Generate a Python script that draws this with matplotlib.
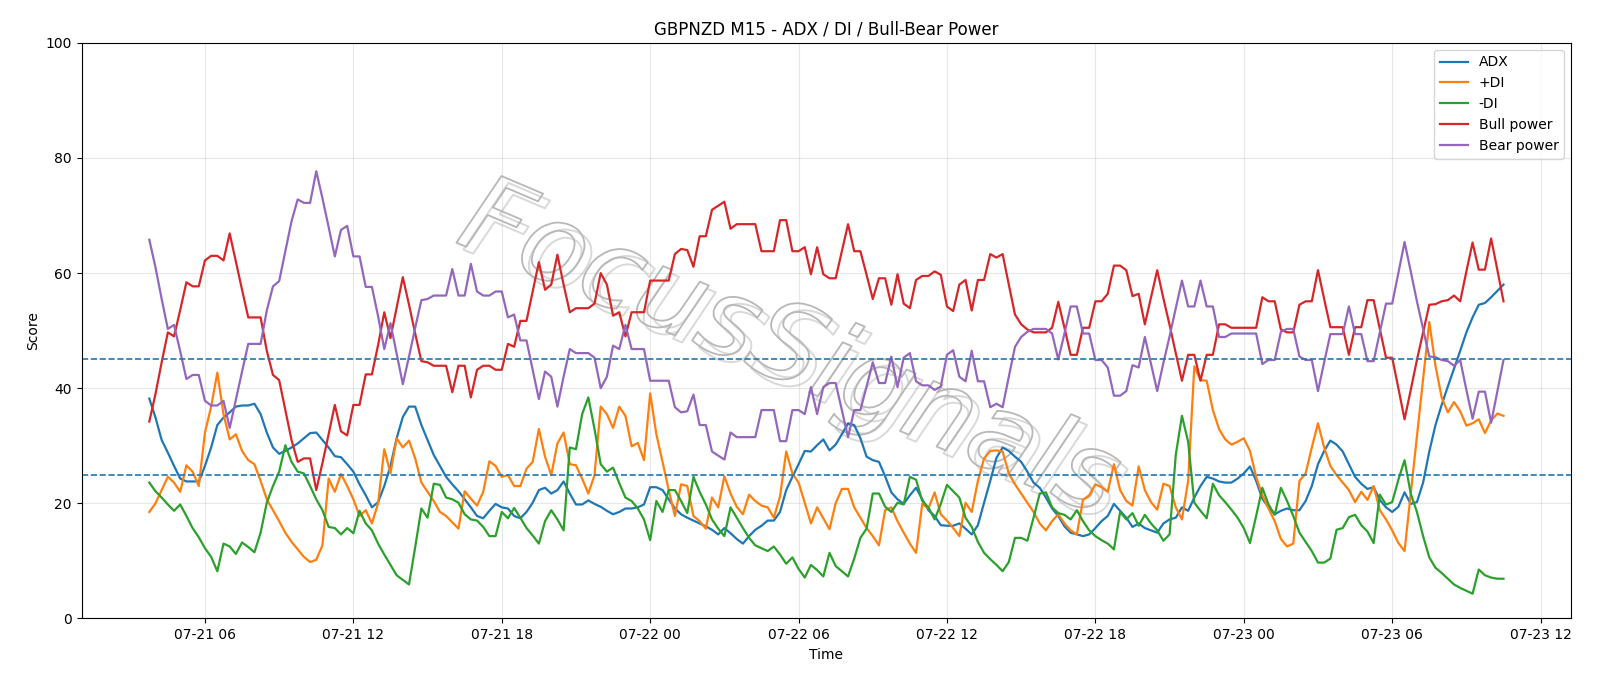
import matplotlib
matplotlib.use("Agg")
import matplotlib.pyplot as plt
import matplotlib.dates as mdates
import matplotlib.patheffects as pe
import pandas as pd

# 15-minute bars, 07-21 03:45 -> 07-23 10:30
times = pd.date_range("2025-07-21 03:45", periods=220, freq="15min")

adx = [
    38.2, 34.9, 31.0, 28.8, 26.5, 24.3, 23.8, 23.8, 23.8, 26.5, 29.7, 33.6, 34.9, 35.8, 36.8, 37.0, 37.0, 37.3, 35.5, 32.3,
    29.7, 28.6, 29.1, 29.7, 30.4, 31.3, 32.2, 32.3, 31.0, 29.7, 28.2, 28.0, 26.8, 25.5, 23.3, 21.4, 19.3, 20.2,
    23.0, 26.5, 31.3, 35.0, 36.8, 36.8, 33.6, 31.0, 28.4, 26.5, 24.6, 23.3, 22.1, 20.7, 19.3, 17.8, 17.4, 18.7, 19.9, 19.3,
    19.1, 17.8, 17.4, 18.5, 20.1, 22.3, 22.7, 21.7, 22.3, 23.8, 21.7, 19.8, 19.8, 20.5, 19.9, 19.4, 18.7,
    18.1, 18.5, 19.1, 19.1, 19.3, 19.8, 22.8, 22.8, 22.3, 20.7, 19.1, 18.1, 17.5, 17.0, 16.5, 16.0, 15.4, 14.6, 15.7, 14.8,
    13.8, 13.0, 14.3, 15.4, 16.1, 17.0, 17.0, 18.5, 22.3, 24.6, 26.8, 29.1, 29.0, 30.1, 31.1, 29.2, 30.2,
    32.0, 33.9, 33.6, 31.3, 28.1, 27.5, 27.2, 24.7, 21.9, 20.7, 19.9, 21.4, 22.7, 20.7, 18.8, 17.8, 16.2, 16.1, 16.1, 16.5,
    15.6, 14.6, 16.2, 20.1, 23.9, 27.9, 29.7, 29.1, 28.1, 27.2, 25.5, 23.6, 22.7, 21.0, 19.1, 17.8, 16.0,
    14.9, 14.6, 14.3, 14.6, 15.7, 16.9, 17.8, 19.9, 18.7, 17.5, 15.9, 16.5, 15.7, 15.3, 14.9, 16.5, 17.2, 17.5, 19.3, 18.7,
    21.0, 23.0, 24.6, 24.3, 23.8, 23.6, 23.6, 24.3, 25.2, 26.4, 23.9, 20.8, 19.3, 18.1, 18.7, 19.1, 18.8, 18.8,
    20.4, 23.0, 26.8, 29.1, 30.9, 30.2, 29.0, 26.8, 24.6, 23.4, 22.5, 22.8, 20.6, 19.3, 18.5, 19.4, 21.9, 19.9, 20.2, 23.6,
    29.0, 33.6, 37.1, 40.3, 43.4, 46.5, 49.7, 52.3, 54.5, 54.8, 55.8, 56.9, 58.0,
]

plus_di = [
    18.5, 20.0, 22.3, 24.6, 23.6, 22.0, 26.6, 25.5, 23.0, 32.3, 36.8, 42.7, 35.5, 31.1, 32.0, 29.1, 27.5, 26.8, 23.9, 20.7,
    18.8, 16.9, 14.9, 13.3, 12.0, 10.7, 9.8, 10.2, 12.7, 24.3, 22.0, 25.1, 23.0, 20.7, 17.8, 18.8, 16.5, 20.0,
    29.4, 25.2, 31.3, 29.7, 30.9, 27.8, 23.6, 22.0, 20.4, 18.5, 17.8, 16.7, 15.6, 22.1, 20.8, 19.6, 22.0, 27.3, 26.5, 24.6,
    24.9, 23.0, 23.0, 26.0, 27.2, 32.9, 28.1, 24.9, 30.4, 32.3, 26.8, 26.6, 24.3, 21.7, 24.9, 36.8, 35.5,
    33.1, 36.8, 35.2, 29.9, 30.5, 27.5, 39.1, 32.0, 27.2, 22.3, 17.8, 23.3, 23.0, 17.8, 16.9, 15.6, 21.0, 19.3, 24.7, 21.7,
    19.4, 18.1, 21.5, 20.4, 19.6, 19.3, 17.5, 21.2, 29.0, 25.2, 23.6, 20.1, 16.5, 19.3, 17.4, 15.5, 20.0,
    22.5, 22.5, 19.3, 17.5, 15.7, 14.3, 12.7, 18.8, 19.3, 16.9, 14.9, 13.0, 11.4, 19.9, 19.1, 21.9, 18.1, 17.0, 15.7, 14.3,
    20.1, 18.5, 23.9, 27.8, 29.1, 29.2, 29.0, 25.2, 23.3, 21.7, 20.1, 18.5, 16.5, 15.3, 16.9, 18.1, 16.5,
    15.3, 14.6, 20.6, 21.4, 23.3, 22.8, 22.0, 26.8, 22.3, 20.4, 19.6, 26.4, 22.3, 20.2, 18.9, 23.4, 23.0, 19.3, 17.2, 23.9,
    43.8, 41.4, 41.3, 36.2, 32.9, 31.1, 30.2, 30.7, 31.3, 29.1, 24.6, 21.4, 19.1, 16.9, 13.8, 12.5, 13.0, 23.9,
    25.2, 29.7, 33.9, 29.7, 26.5, 24.9, 23.6, 22.3, 20.2, 22.0, 20.6, 23.0, 18.8, 17.2, 15.3, 13.1, 11.7, 21.7, 31.7, 41.6,
    51.5, 43.9, 38.4, 35.8, 37.6, 36.0, 33.5, 33.9, 34.6, 32.2, 34.4, 35.6, 35.2,
]

minus_di = [
    23.6, 22.1, 21.0, 19.8, 18.7, 19.8, 17.8, 15.7, 14.1, 12.2, 10.7, 8.2, 13.0, 12.5, 11.2, 13.2, 12.4, 11.5, 14.9, 20.1,
    23.0, 25.5, 30.1, 27.2, 25.5, 25.2, 23.0, 20.7, 18.8, 15.9, 15.7, 14.6, 15.7, 14.8, 18.7, 16.5, 15.3, 13.0,
    11.1, 9.3, 7.5, 6.7, 5.9, 12.4, 19.1, 17.5, 23.4, 23.2, 21.0, 20.7, 20.1, 18.1, 17.2, 17.0, 15.9, 14.3, 14.3, 18.5,
    17.4, 19.2, 17.5, 15.7, 14.4, 13.0, 16.9, 18.8, 17.2, 15.3, 29.7, 29.4, 35.5, 38.4, 32.9, 26.8, 25.5,
    26.2, 23.5, 21.0, 20.4, 19.1, 17.2, 13.6, 20.4, 18.5, 22.3, 22.3, 20.4, 18.3, 24.6, 22.0, 19.8, 17.2, 15.6, 14.3, 19.3,
    17.5, 15.7, 14.0, 12.7, 12.2, 11.7, 12.5, 11.1, 9.5, 10.6, 8.6, 7.1, 9.3, 8.4, 7.3, 11.4, 9.1,
    8.2, 7.3, 10.4, 14.0, 15.6, 21.7, 21.7, 19.4, 18.5, 20.1, 19.8, 24.6, 24.1, 20.4, 19.3, 17.2, 19.9, 23.2, 22.1, 21.0,
    17.5, 15.9, 13.3, 11.4, 10.3, 9.3, 8.2, 9.8, 14.0, 14.0, 13.5, 17.5, 21.7, 21.9, 19.3, 18.3, 18.0,
    17.2, 18.8, 16.9, 15.3, 14.3, 13.6, 13.0, 12.0, 18.5, 17.2, 18.3, 16.1, 18.0, 16.5, 15.3, 13.5, 14.6, 28.4, 35.2, 30.7,
    20.1, 18.7, 17.4, 23.4, 21.4, 20.2, 18.9, 17.5, 15.7, 13.1, 17.8, 22.7, 19.8, 18.0, 22.7, 20.4, 17.8, 14.9,
    13.3, 11.7, 9.7, 9.7, 10.4, 15.4, 15.7, 17.6, 18.0, 16.2, 15.1, 13.1, 21.5, 19.8, 20.2, 24.1, 27.5, 21.7, 18.5, 14.3,
    10.6, 8.8, 7.9, 6.9, 5.9, 5.3, 4.8, 4.3, 8.5, 7.5, 7.1, 6.9, 6.9,
]

bull_power = [
    34.2, 39.0, 44.5, 49.7, 49.0, 53.6, 58.4, 57.7, 57.7, 62.2, 63.0, 63.0, 62.2, 66.9, 62.0, 57.1, 52.3, 52.3, 52.3, 46.5,
    42.3, 41.4, 36.2, 31.0, 27.2, 27.8, 27.8, 22.3, 27.0, 32.0, 37.1, 32.5, 31.8, 37.1, 37.1, 42.4, 42.4, 47.5,
    53.2, 48.7, 54.0, 59.3, 54.5, 49.5, 44.7, 44.5, 43.9, 43.9, 43.9, 39.3, 43.9, 43.9, 38.4, 43.2, 43.9, 43.9, 43.2, 43.2,
    47.7, 47.2, 51.7, 51.7, 56.8, 61.9, 57.1, 58.0, 63.2, 58.0, 53.2, 53.9, 53.9, 53.9, 54.7, 60.0, 58.0,
    52.6, 53.2, 49.0, 53.2, 53.2, 53.2, 58.7, 58.7, 58.7, 58.7, 63.3, 64.2, 64.0, 61.1, 66.4, 66.4, 71.0, 71.7, 72.4, 67.7,
    68.5, 68.5, 68.5, 68.5, 63.8, 63.8, 63.8, 69.2, 69.2, 63.8, 63.8, 64.5, 59.8, 64.5, 59.8, 59.1, 59.1,
    63.8, 68.5, 63.8, 63.8, 59.7, 55.5, 59.1, 59.1, 54.5, 59.8, 54.7, 53.9, 58.8, 59.5, 59.5, 60.3, 59.7, 54.2, 53.4, 58.0,
    58.8, 53.5, 58.8, 58.8, 63.3, 62.7, 63.3, 58.0, 52.8, 51.1, 50.2, 49.7, 49.7, 49.7, 50.5, 55.0, 50.5,
    45.8, 45.8, 50.5, 50.5, 55.1, 55.1, 56.4, 61.3, 61.3, 60.5, 56.0, 56.4, 51.1, 55.8, 60.5, 55.6, 51.0, 46.1, 41.3, 45.8,
    45.8, 41.3, 45.8, 45.8, 51.1, 51.1, 50.5, 50.5, 50.5, 50.5, 50.5, 55.8, 55.1, 55.1, 50.2, 49.7, 49.7, 54.5,
    55.1, 55.1, 60.5, 55.5, 50.6, 50.6, 50.6, 45.8, 50.6, 50.6, 55.3, 55.3, 50.3, 45.3, 45.3, 40.0, 34.6, 39.7, 44.9, 49.7,
    54.5, 54.6, 55.1, 55.3, 56.1, 55.1, 60.3, 65.3, 60.6, 60.6, 66.0, 60.6, 55.1,
]

bear_power = [
    65.8, 61.0, 55.5, 50.3, 51.0, 46.4, 41.6, 42.3, 42.3, 37.8, 37.0, 37.0, 37.8, 33.1, 38.0, 42.9, 47.7, 47.7, 47.7, 53.5,
    57.7, 58.6, 63.8, 69.0, 72.8, 72.2, 72.2, 77.7, 73.0, 68.0, 62.9, 67.5, 68.2, 62.9, 62.9, 57.6, 57.6, 52.5,
    46.8, 51.3, 46.0, 40.7, 45.5, 50.5, 55.3, 55.5, 56.1, 56.1, 56.1, 60.7, 56.1, 56.1, 61.6, 56.8, 56.1, 56.1, 56.8, 56.8,
    52.3, 52.8, 48.3, 48.3, 43.2, 38.1, 42.9, 42.0, 36.8, 42.0, 46.8, 46.1, 46.1, 46.1, 45.3, 40.0, 42.0,
    47.4, 46.8, 51.0, 46.8, 46.8, 46.8, 41.3, 41.3, 41.3, 41.3, 36.7, 35.8, 36.0, 38.9, 33.6, 33.6, 29.0, 28.3, 27.6, 32.3,
    31.5, 31.5, 31.5, 31.5, 36.2, 36.2, 36.2, 30.8, 30.8, 36.2, 36.2, 35.5, 40.2, 35.5, 40.2, 40.9, 40.9,
    36.2, 31.5, 36.2, 36.2, 40.3, 44.5, 40.9, 40.9, 45.5, 40.2, 45.3, 46.1, 41.2, 40.5, 40.5, 39.7, 40.3, 45.8, 46.6, 42.0,
    41.2, 46.5, 41.2, 41.2, 36.7, 37.3, 36.7, 42.0, 47.2, 48.9, 49.8, 50.3, 50.3, 50.3, 49.5, 45.0, 49.5,
    54.2, 54.2, 49.5, 49.5, 44.9, 44.9, 43.6, 38.7, 38.7, 39.5, 44.0, 43.6, 48.9, 44.2, 39.5, 44.4, 49.0, 53.9, 58.7, 54.2,
    54.2, 58.7, 54.2, 54.2, 48.9, 48.9, 49.5, 49.5, 49.5, 49.5, 49.5, 44.2, 44.9, 44.9, 49.8, 50.3, 50.3, 45.5,
    44.9, 44.9, 39.5, 44.5, 49.4, 49.4, 49.4, 54.2, 49.4, 49.4, 44.7, 44.7, 49.7, 54.7, 54.7, 60.0, 65.4, 60.3, 55.1, 50.3,
    45.5, 45.4, 44.9, 44.7, 43.9, 44.9, 39.7, 34.7, 39.4, 39.4, 34.0, 39.4, 44.9,
]

fig, ax = plt.subplots(figsize=(16, 6.86), dpi=100)
fig.subplots_adjust(left=0.051, right=0.982, top=0.9375, bottom=0.0985)

ax.plot(times, adx, color="C0", lw=1.6, label="ADX")
ax.plot(times, plus_di, color="C1", lw=1.6, label="+DI")
ax.plot(times, minus_di, color="C2", lw=1.6, label="-DI")
ax.plot(times, bull_power, color="C3", lw=1.6, label="Bull power")
ax.plot(times, bear_power, color="C4", lw=1.6, label="Bear power")

ax.axhline(45, color="C0", ls="--", lw=1.2)
ax.axhline(25, color="C0", ls="--", lw=1.2)

ax.set_ylim(0, 100)
ax.grid(alpha=0.3)
ax.xaxis.set_major_locator(mdates.HourLocator(byhour=[0, 6, 12, 18]))
ax.xaxis.set_major_formatter(mdates.DateFormatter("%m-%d %H"))
ax.set_xlabel("Time")
ax.set_ylabel("Score")
ax.set_title("GBPNZD M15 - ADX / DI / Bull-Bear Power", fontsize=12)
ax.legend(loc="upper right")

# watermark: hollow grey letters with a faint offset shadow
ax.text(0.475, 0.465, "FocusSignals", transform=ax.transAxes, fontsize=78,
        style="italic", rotation=-23, ha="center", va="center",
        color=(1, 1, 1, 0), zorder=0,
        path_effects=[
            pe.Stroke(linewidth=1.4, foreground="#d9d9d9", offset=(5, -5)),
            pe.Stroke(linewidth=1.3, foreground="#b8b8b8"),
        ])

plt.savefig("out.png", dpi=100)
